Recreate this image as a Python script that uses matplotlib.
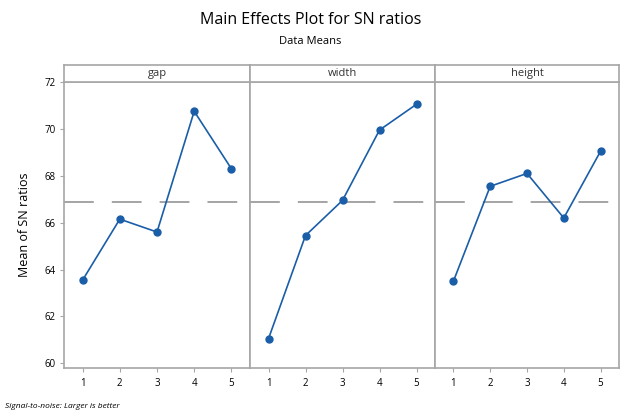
import numpy as np
import matplotlib.pyplot as plt

plt.rcParams['font.family'] = ['Open Sans', 'DejaVu Sans']

# Faktoren und Stufen
factors = ['gap', 'width', 'height']
levels = [1, 2, 3, 4, 5]
gap_sn = [63.55, 66.15, 65.6, 70.75, 68.3]
width_sn = [61.05, 65.45, 66.95, 69.95, 71.05]
height_sn = [63.5, 67.55, 68.1, 66.2, 69.05]
grand_mean = 66.87
yticks = [60, 62, 64, 66, 68, 70, 72]

series = [gap_sn, width_sn, height_sn]

W, H = 621, 416
fig = plt.figure(figsize=(W / 100, H / 100), dpi=100)

frame_col = '#a6a6a6'
line_col = '#1a5ea8'

# Pixelgrenzen der Panels
edges = [64, 250, 435, 619]
top_px, strip_top_px, bottom_px = 82, 65, 368

for i, name in enumerate(factors):
    x0 = edges[i] / W
    w = (edges[i + 1] - edges[i]) / W
    ax = fig.add_axes([x0, 1 - bottom_px / H, w, (bottom_px - top_px) / H])
    ax.plot(levels, series[i], color=line_col, lw=1.2, marker='o', ms=5,
            zorder=3)
    ax.axhline(grand_mean, color='#8c8c8c', lw=1.1, dashes=(19.5, 11.8),
               zorder=2)
    ax.set_xlim(0.5, 5.5)
    ax.set_ylim(59.8, 72.0)
    ax.set_xticks(levels)
    ax.tick_params(axis='x', length=3, color=frame_col, labelsize=7, pad=4)
    if i == 0:
        ax.set_yticks(yticks)
        ax.tick_params(axis='y', length=3, color=frame_col, labelsize=7, pad=3)
        ax.set_ylabel('Mean of SN ratios', fontsize=9, labelpad=10)
    else:
        ax.set_yticks([])
    for s in ax.spines.values():
        s.set_color(frame_col)
        s.set_linewidth(1.2)

    # Kopfzeile
    sax = fig.add_axes([x0, 1 - top_px / H, w, (top_px - strip_top_px) / H])
    sax.set_xticks([])
    sax.set_yticks([])
    for s in sax.spines.values():
        s.set_color(frame_col)
        s.set_linewidth(1.2)
    sax.text(0.5, 0.5, name, ha='center', va='center', fontsize=8,
             color='#333333', transform=sax.transAxes)

fig.text(0.5, 1 - 20 / H, 'Main Effects Plot for SN ratios', ha='center',
         va='center', fontsize=11.5)
fig.text(0.5, 1 - 42 / H, 'Data Means', ha='center', va='center', fontsize=8)
fig.text(5 / W, 1 - 407 / H, 'Signal-to-noise: Larger is better', ha='left',
         va='center', fontsize=6, style='italic')

plt.savefig('out.png', dpi=100)
